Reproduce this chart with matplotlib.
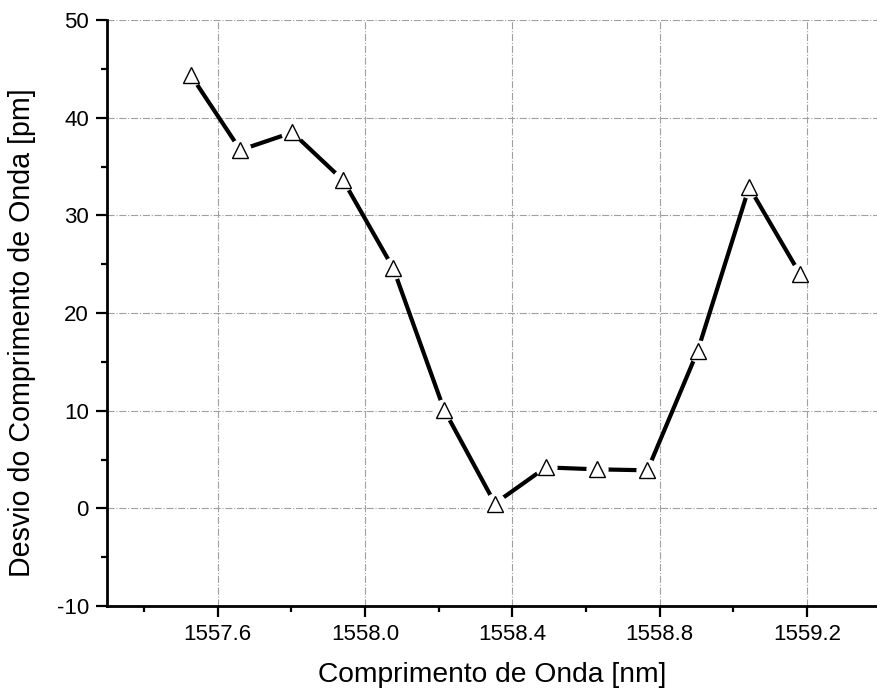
import matplotlib
matplotlib.use("Agg")
import matplotlib.pyplot as plt
from matplotlib.ticker import MultipleLocator

plt.rcParams['font.family'] = ['Liberation Sans', 'DejaVu Sans']
plt.rcParams['axes.unicode_minus'] = False

wavelength = [1557.527, 1557.662, 1557.803, 1557.941, 1558.077, 1558.215, 1558.353,
              1558.491, 1558.629, 1558.767, 1558.903, 1559.043, 1559.181]
deviation = [44.4, 36.7, 38.5, 33.6, 24.6, 10.1, 0.5, 4.2, 4.0, 3.9, 16.1, 32.9, 24.0]
xtick_values = [1557.6, 1558.0, 1558.4, 1558.8, 1559.2]
xtick_labels = ['1557.6', '1558.0', '1558.4', '1558.8', '1559.2']

fig = plt.figure(figsize=(8.77, 6.95), dpi=100)
ax = fig.add_axes([0.122, 0.128, 0.878, 0.843])

ax.plot(wavelength, deviation, color='black', lw=3.0, zorder=3, solid_capstyle='butt')
# white halo so the line stops short of each marker
ax.plot(wavelength, deviation, ls='none', marker='o', ms=16, mfc='white', mec='none', zorder=4)
ax.plot(wavelength, deviation, ls='none', marker='^', ms=11, mfc='white', mec='black',
        mew=1.0, zorder=5)

ax.set_xlim(1557.30, 1559.39)
ax.set_ylim(-10, 50)
ax.set_xticks(xtick_values)
ax.set_xticklabels(xtick_labels)
ax.xaxis.set_minor_locator(MultipleLocator(0.2))
ax.yaxis.set_major_locator(MultipleLocator(10))
ax.yaxis.set_minor_locator(MultipleLocator(5))

ax.grid(True, which='major', color='#a0a0a0', ls='-.', lw=0.8)
ax.set_axisbelow(True)

for s in ['top', 'right']:
    ax.spines[s].set_visible(False)
for s in ['left', 'bottom']:
    ax.spines[s].set_linewidth(2.0)

ax.tick_params(which='major', direction='out', length=8, width=1.6, labelsize=16, pad=5)
ax.tick_params(which='minor', direction='out', length=4.5, width=1.6)

ax.set_xlabel('Comprimento de Onda [nm]', fontsize=20.3, labelpad=12)
ax.set_ylabel('Desvio do Comprimento de Onda [pm]', fontsize=20.6)
ax.yaxis.set_label_coords(-0.092, 0.467)

fig.savefig('out.png', dpi=100)
